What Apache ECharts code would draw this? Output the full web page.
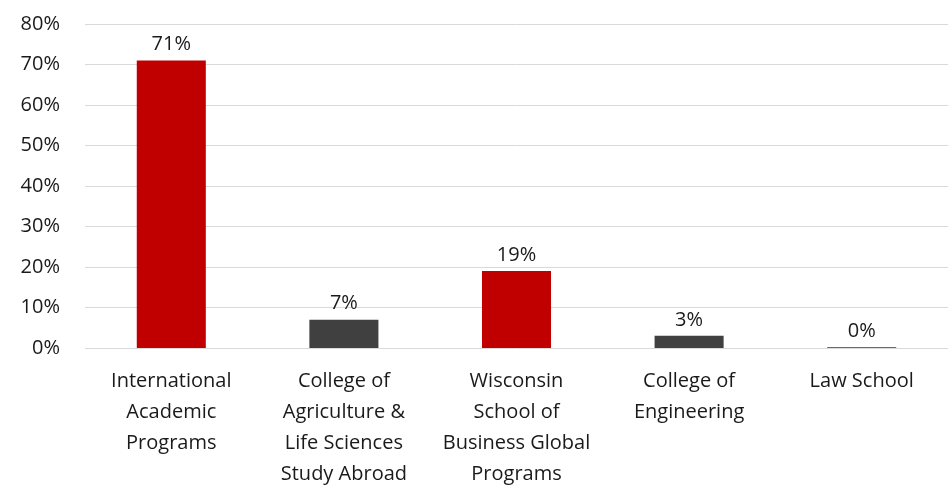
<!DOCTYPE html>
<html>
<head>
<meta charset="utf-8">
<script src="https://cdn.jsdelivr.net/npm/echarts@6/dist/echarts.min.js"></script>
<style>
  html, body { margin: 0; padding: 0; background: #fff; }
  #chart { width: 948px; height: 489px; }
</style>
</head>
<body>
<div id="chart"></div>
<script>
const categories = [
  "International\nAcademic\nPrograms",
  "College of\nAgriculture &\nLife Sciences\nStudy Abroad",
  "Wisconsin\nSchool of\nBusiness Global\nPrograms",
  "College of\nEngineering",
  "Law School",
];
const shares = [71, 7, 19, 3, 0.2];
const barColors = ["#C00000", "#404040", "#C00000", "#404040", "#C00000"];
const yTicks = [0, 10, 20, 30, 40, 50, 60, 70, 80];

const chart = echarts.init(document.getElementById("chart"));
const font = "Open Sans";

chart.setOption({
  animation: false,
  grid: { left: 85, right: 0, top: 24, bottom: 141, outerBoundsMode: "none", containLabel: false },
  xAxis: {
    type: "category",
    data: categories,
    axisLine: { show: false },
    axisTick: { show: false },
    axisLabel: {
      interval: 0,
      margin: 18,
      color: "#1a1a1a",
      fontFamily: font,
      fontSize: 20,
      lineHeight: 31,
      align: "center",
    },
  },
  yAxis: {
    type: "value",
    min: yTicks[0],
    max: yTicks[yTicks.length - 1],
    interval: 10,
    axisLine: { show: false },
    axisTick: { show: false },
    splitLine: { lineStyle: { color: "#d9d9d9", width: 1 } },
    axisLabel: {
      margin: 25,
      color: "#1a1a1a",
      fontFamily: font,
      fontSize: 20,
      formatter: (v) => v + "%",
    },
  },
  series: [
    {
      type: "bar",
      barWidth: "40%",
      data: shares.map((v, i) => ({ value: v, itemStyle: { color: barColors[i] } })),
      label: {
        show: true,
        position: "top",
        distance: 6,
        color: "#1a1a1a",
        fontFamily: font,
        fontSize: 20,
        formatter: (p) => Math.round(p.value) + "%",
      },
    },
  ],
});
</script>
</body>
</html>
